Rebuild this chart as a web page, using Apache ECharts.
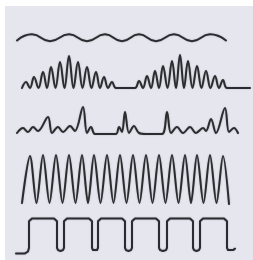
<!DOCTYPE html>
<html>
<head>
<meta charset="utf-8">
<script src="https://cdn.jsdelivr.net/npm/echarts@6/dist/echarts.min.js"></script>
<style>
  html, body { margin: 0; padding: 0; background: #ffffff; }
  #wrap { position: relative; width: 253px; height: 260px; }
  #paper { position: absolute; left: 5px; top: 6px; right: 0; bottom: 0; background: #e6e6ee; }
  #chart { position: absolute; left: 0; top: 0; width: 253px; height: 260px; }
</style>
</head>
<body>
<div id="wrap">
  <div id="paper"></div>
  <div id="chart"></div>
</div>
<script>
const alphaWave = [
  [17, 1], [32, 10], [50, 0], [69, 10], [87, 0], [105, 10], [122, 0],
  [139, 10], [156, 0], [174, 10], [192, 0], [210, 10], [226, 1]
]

const spindleWave = [
  [22, 0], [26, 6], [30, 0], [34, 11], [38.5, 0], [43, 16], [47, 0], [51, 21],
  [55.5, 0], [60, 26], [64.5, 0], [69, 32], [73.5, 0], [78, 26], [82.5, 0],
  [87, 21], [91.5, 0], [96, 16], [100, 0], [104, 11], [108, 0], [112, 6],
  [116, 0], [135, 0],
  [139, 7], [143, 0], [147, 12], [151, 0], [155, 17], [159, 0], [163, 22],
  [167.5, 0], [172, 27], [176, 0], [180, 33], [184, 0], [188, 27], [192.5, 0],
  [197, 22], [201.5, 0], [206, 17], [210.5, 0], [215, 12], [219, 0], [223, 8],
  [227, 0], [250, 0]
]

const spikeWave = [
  [17, 1], [23, 6], [28, 2], [33, 7], [38, 3], [48, 17], [52, 1], [58, 7],
  [63, 2], [70, 8], [75, 3], [83, 27], [87, 1], [91, 7], [95, 0], [116, 0],
  [119, 7], [122, 2], [125, 22], [129, 1], [134, 8], [139, 1], [146, 0],
  [162, 0], [167, 22], [171, 1], [177, 7], [183, 1], [190, 7], [196, 1],
  [203, 6], [206, 3], [211, 15], [216, 1], [225, 26], [229, 2], [234, 6], [238, 1]
]

const fastWave = [
  [22, 0], [30, 47], [36.5, 0], [43, 48], [49.5, 0], [56, 48], [62.5, 0],
  [69, 48], [75.5, 0], [82, 48], [88, 0], [94, 48], [100.5, 0], [107, 48],
  [113.5, 0], [120, 48], [126.5, 0], [133, 48], [139.5, 0], [146, 48],
  [152.5, 0], [159, 48], [165.5, 0], [172, 48], [178.5, 0], [185, 48],
  [191, 0], [197, 48], [203.5, 0], [210, 48], [216.5, 0], [223, 47], [229, -1]
]

// square pulses: rise / fall times, levels
const pulseRise = [29, 64, 98, 132, 167, 200]
const pulseFall = [57, 92, 125, 159, 193, 227]
const pulseHigh = 34
const pulseLow = 0
const pulseStart = [[16, -3], [25, -3], [28, -1]]
const pulseEnd = [[230, -0.5], [233, 0.5], [235, 2]]

const baselines = [38, 88, 134, 203, 254]

// pen corner rounding (style only)
const bend = 3

const pulseWave = [...pulseStart]
pulseRise.forEach((t, i) => {
  const f = pulseFall[i]
  pulseWave.push(
    [t, pulseLow + bend], [t, pulseHigh - bend], [t + 1, pulseHigh - 1], [t + bend, pulseHigh],
    [f - bend, pulseHigh], [f - 1, pulseHigh - 1], [f, pulseHigh - bend], [f, pulseLow + bend],
    [f + 1, pulseLow + 0.5]
  )
  if (i < pulseRise.length - 1) {
    const next = pulseRise[i + 1]
    pulseWave.push([(f + next) / 2, pulseLow - 0.5], [next - 1, pulseLow + 0.5])
  }
})
pulseWave.push(...pulseEnd)

const traces = [
  { data: alphaWave, smooth: 0.5 },
  { data: spindleWave, smooth: 0.4 },
  { data: spikeWave, smooth: 0.35 },
  { data: fastWave, smooth: 0.3 },
  { data: pulseWave, smooth: false }
]

const myChart = echarts.init(document.getElementById('chart'), null, { renderer: 'canvas' })

const option = {
  animation: false,
  grid: baselines.map((b) => {
    return { left: 0, right: 0, top: b - 60, height: 70, show: false }
  }),
  xAxis: baselines.map((b, i) => {
    return { type: 'value', gridIndex: i, min: 0, max: 253, show: false }
  }),
  yAxis: baselines.map((b, i) => {
    return { type: 'value', gridIndex: i, min: -10, max: 60, show: false }
  }),
  series: traces.map((info, i) => {
    return {
      type: 'line',
      xAxisIndex: i,
      yAxisIndex: i,
      data: info.data,
      smooth: info.smooth,
      showSymbol: false,
      lineStyle: {
        color: '#2c2c30',
        width: 2,
        join: 'round',
        cap: 'round',
        shadowColor: 'rgba(40,40,50,0.35)',
        shadowBlur: 1.5
      }
    }
  })
}

myChart.setOption(option)
</script>
</body>
</html>
